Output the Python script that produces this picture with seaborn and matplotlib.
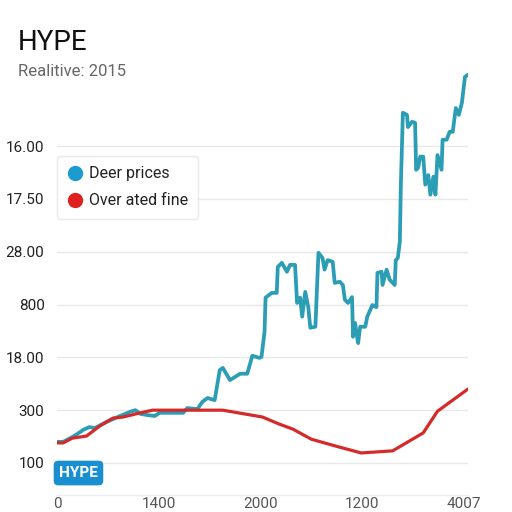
import matplotlib
matplotlib.use("Agg")
import matplotlib.pyplot as plt
from matplotlib.lines import Line2D
import seaborn as sns
import pandas as pd

# ---- data (y in gridline units) ----
teal_x = [0.0, 0.06, 0.15, 0.20, 0.26, 0.32, 0.37, 0.49, 0.62, 0.72, 0.77, 0.82, 0.88, 0.96,
          1.01, 1.14, 1.24, 1.28, 1.38, 1.43, 1.48, 1.55, 1.60, 1.63, 1.70, 1.80, 1.87, 1.92,
          1.99, 2.01, 2.04, 2.05, 2.11, 2.16, 2.17, 2.21, 2.26, 2.29, 2.34, 2.36, 2.39, 2.41,
          2.44, 2.47, 2.49, 2.54, 2.57, 2.61, 2.63, 2.66, 2.71, 2.73, 2.78, 2.81, 2.83, 2.86,
          2.90, 2.91, 2.93, 2.95, 2.96, 2.98, 3.03, 3.05, 3.10, 3.14, 3.15, 3.19, 3.20, 3.24,
          3.27, 3.32, 3.33, 3.35, 3.37, 3.38, 3.40, 3.44, 3.45, 3.49, 3.52, 3.53, 3.55, 3.57,
          3.60, 3.62, 3.65, 3.67, 3.70, 3.72, 3.74, 3.78, 3.79, 3.83, 3.86, 3.89, 3.92, 3.95,
          3.98, 4.01, 4.04]
teal_y = [0.40, 0.40, 0.49, 0.55, 0.63, 0.68, 0.66, 0.78, 0.89, 0.97, 1.00, 0.93, 0.91, 0.89,
          0.95, 0.95, 0.95, 1.04, 1.02, 1.16, 1.23, 1.19, 1.76, 1.80, 1.57, 1.69, 1.69, 2.03,
          1.99, 2.01, 2.48, 3.13, 3.22, 3.22, 3.71, 3.79, 3.62, 3.75, 3.75, 3.03, 3.13, 2.77,
          3.24, 2.95, 2.56, 2.58, 3.98, 3.88, 3.66, 3.84, 3.81, 3.41, 3.43, 3.37, 3.09, 3.03,
          3.14, 2.39, 2.65, 2.39, 2.27, 2.58, 2.58, 2.77, 2.99, 2.95, 3.60, 3.62, 3.37, 3.66,
          3.47, 3.37, 3.84, 3.88, 4.19, 5.27, 6.63, 6.59, 6.36, 6.46, 6.44, 5.55, 5.59, 5.80,
          5.80, 5.27, 5.45, 5.08, 5.42, 5.08, 5.83, 5.55, 6.12, 6.12, 6.27, 6.27, 6.72, 6.59,
          6.82, 7.31, 7.35]

red_x = [0.0, 0.06, 0.15, 0.29, 0.42, 0.55, 0.65, 0.82, 0.94, 1.28, 1.63, 1.96, 2.02, 2.18,
         2.32, 2.50, 2.74, 2.99, 3.30, 3.60, 3.74, 4.04]
red_y = [0.38, 0.38, 0.47, 0.51, 0.70, 0.85, 0.87, 0.95, 1.00, 1.00, 1.00, 0.89, 0.87, 0.74,
         0.64, 0.45, 0.32, 0.19, 0.23, 0.57, 0.98, 1.40]

series_names = ["Deer prices", "Over ated fine"]
y_tick_labels = ["100", "300", "18.00", "800", "28.00", "17.50", "16.00"]
x_tick_labels = ["0", "1400", "2000", "1200", "4007"]
title = "HYPE"
subtitle = "Realitive: 2015"
badge = "HYPE"

teal_df = pd.DataFrame({"x": teal_x, "y": teal_y})
red_df = pd.DataFrame({"x": red_x, "y": red_y})

sns.set_theme(style="whitegrid")
plt.rcParams["font.family"] = ["Roboto", "DejaVu Sans"]

TEAL = "#2b9db4"
RED = "#d42a2a"

fig = plt.figure(figsize=(5.12, 5.12), dpi=100)
ax = fig.add_axes([57/512, 1 - 495/512, (468-57)/512, (495-70)/512])

sns.lineplot(data=teal_df, x="x", y="y", ax=ax, color=TEAL, linewidth=2.7,
             sort=False, estimator=None, zorder=3)
sns.lineplot(data=red_df, x="x", y="y", ax=ax, color=RED, linewidth=2.3,
             sort=False, estimator=None, zorder=4)

ax.set_xlim(0, 4.04)
ax.set_ylim(-0.606, 7.44)
ax.set_yticks(range(len(y_tick_labels)))
ax.set_yticklabels(y_tick_labels)
ax.set_xticks(range(len(x_tick_labels)))
ax.set_xticklabels(x_tick_labels)
ax.set_xlabel("")
ax.set_ylabel("")
ax.tick_params(axis="y", length=0, pad=9, labelsize=11, labelcolor="#222222")
ax.tick_params(axis="x", length=0, pad=1.5, labelsize=11, labelcolor="#555555")
ax.grid(axis="x", visible=False)
ax.grid(axis="y", color="#e8e8e8", linewidth=1.0)
for s in ["left", "right", "top"]:
    ax.spines[s].set_visible(False)
ax.spines["bottom"].set_color("#eeeeee")
ax.spines["bottom"].set_linewidth(1.0)
ax.set_facecolor("white")

handles = [Line2D([0], [0], marker="o", linestyle="none", markersize=10,
                  markerfacecolor="#1b9bd0", markeredgecolor="#1b9bd0"),
           Line2D([0], [0], marker="o", linestyle="none", markersize=10,
                  markerfacecolor="#e0201e", markeredgecolor="#e0201e")]
leg = ax.legend(handles, series_names, loc="upper left", bbox_to_anchor=(0.0, 0.798),
                borderaxespad=0.0, frameon=True, fontsize=11.5, handletextpad=0.35,
                borderpad=0.65, labelspacing=0.75, handlelength=1.0, fancybox=True)
leg.get_frame().set_edgecolor("#e4e4e4")
leg.get_frame().set_linewidth(1.0)
for t in leg.get_texts():
    t.set_color("#222222")

fig.text(18/512, 1 - 42/512, title, fontsize=20, color="#111111", va="center", ha="left")
fig.text(18/512, 1 - 72/512, subtitle, fontsize=12, color="#666666", va="center", ha="left")

ax.text(0.02, -0.19, badge, transform=ax.transData, fontsize=11, color="white",
        fontweight="bold", va="center", ha="left", zorder=6,
        bbox=dict(boxstyle="round,pad=0.35,rounding_size=0.3", facecolor="#1a8fd0",
                  edgecolor="none"))

fig.savefig("out.png", dpi=100, facecolor="white")
